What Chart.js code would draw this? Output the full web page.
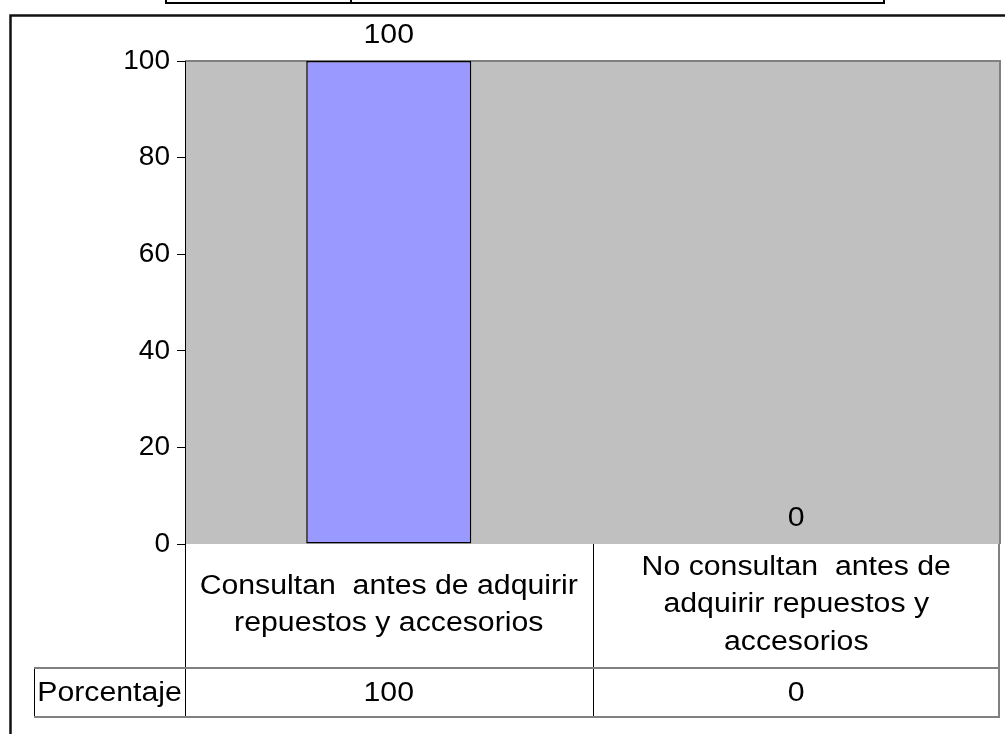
<!DOCTYPE html>
<html>
<head>
<meta charset="utf-8">
<script src="https://cdn.jsdelivr.net/npm/chart.js@4.4.0/dist/chart.umd.min.js"></script>
<style>
  html, body { margin: 0; padding: 0; background: #fff; }
  #grafica { display: block; }
</style>
</head>
<body>
<canvas id="grafica" width="1005" height="734"></canvas>
<script>
// datos del gráfico
const categorias = [
  ['Consultan  antes de adquirir', 'repuestos y accesorios'],
  ['No consultan  antes de', 'adquirir repuestos y', 'accesorios']
];
const serieNombre = 'Porcentaje';
const porcentajes = [100, 0];
const ticksY = [0, 20, 40, 60, 80, 100];

const fuente = '"Liberation Sans", Arial, sans-serif';
const tamFuente = 27;
const estiramiento = 1.12; // el texto del original sale algo más ancho

function texto(ctx, t, x, y) {
  ctx.save();
  ctx.translate(x, y);
  ctx.scale(estiramiento, 1);
  ctx.fillText(t, 0, 0);
  ctx.restore();
}

// fondo gris y borde del área de trazado, más el recuadro exterior
const fondoPlugin = {
  id: 'fondo',
  beforeDraw(chart) {
    const { ctx, chartArea: a } = chart;
    ctx.save();
    // recuadro cortado arriba
    ctx.strokeStyle = '#000';
    ctx.lineWidth = 2;
    ctx.beginPath();
    ctx.moveTo(166, -5); ctx.lineTo(166, 3); ctx.lineTo(884, 3); ctx.lineTo(884, -5);
    ctx.moveTo(351, -5); ctx.lineTo(351, 3);
    ctx.stroke();
    // borde exterior del gráfico
    ctx.strokeStyle = '#111';
    ctx.lineWidth = 2.5;
    ctx.beginPath();
    ctx.moveTo(10.5, 740); ctx.lineTo(10.5, 15.5); ctx.lineTo(1010, 15.5);
    ctx.stroke();
    // área de trazado
    ctx.fillStyle = '#C0C0C0';
    ctx.fillRect(a.left, a.top, a.right - a.left, a.bottom - a.top);
    ctx.strokeStyle = '#808080';
    ctx.lineWidth = 2;
    ctx.beginPath();
    ctx.moveTo(a.left, a.top); ctx.lineTo(a.right, a.top); ctx.lineTo(a.right, a.bottom);
    ctx.stroke();
    ctx.restore();
  }
};

// etiquetas de valor y tabla de datos debajo
const tablaPlugin = {
  id: 'tabla',
  afterDraw(chart) {
    const { ctx, chartArea: a } = chart;
    const x = chart.scales.x;
    const meta = chart.getDatasetMeta(0);
    ctx.save();
    ctx.font = tamFuente + 'px ' + fuente;
    ctx.fillStyle = '#000';
    ctx.textAlign = 'center';
    ctx.textBaseline = 'middle';

    // etiquetas sobre las barras
    meta.data.forEach((bar, i) => {
      texto(ctx, String(porcentajes[i]), bar.x, bar.y - 25);
    });

    const fila1 = a.bottom;
    const fila2 = a.bottom + 124;
    const fin = a.bottom + 173;
    const izqSerie = 34;
    const der = a.right - 1;

    const bordes = [a.left];
    for (let i = 1; i < categorias.length; i++) {
      bordes.push((x.getPixelForValue(i - 1) + x.getPixelForValue(i)) / 2);
    }

    // líneas verticales
    ctx.strokeStyle = '#000';
    ctx.lineWidth = 1;
    ctx.beginPath();
    bordes.forEach(bx => {
      const px = Math.round(bx) + 0.5;
      ctx.moveTo(px, fila1); ctx.lineTo(px, fin);
    });
    ctx.moveTo(izqSerie + 0.5, fila2); ctx.lineTo(izqSerie + 0.5, fin);
    ctx.stroke();

    ctx.strokeStyle = '#808080';
    ctx.lineWidth = 2;
    ctx.beginPath();
    ctx.moveTo(der, fila1); ctx.lineTo(der, fin);
    ctx.moveTo(izqSerie, fila2); ctx.lineTo(der, fila2);
    ctx.moveTo(izqSerie, fin); ctx.lineTo(der + 1, fin);
    ctx.stroke();

    // textos de categorías
    const altoLinea = 37.5;
    const centroFila1 = fila1 + 61;
    categorias.forEach((lineas, i) => {
      const cx = x.getPixelForValue(i);
      const y0 = centroFila1 - (lineas.length - 1) * altoLinea / 2;
      lineas.forEach((t, j) => texto(ctx, t, cx, y0 + j * altoLinea));
    });

    // fila de la serie
    const centroFila2 = (fila2 + fin) / 2 + 1;
    texto(ctx, serieNombre, (izqSerie + a.left) / 2, centroFila2);
    porcentajes.forEach((v, i) => {
      texto(ctx, String(v), x.getPixelForValue(i), centroFila2);
    });
    ctx.restore();
  }
};

new Chart(document.getElementById('grafica'), {
  type: 'bar',
  data: {
    labels: categorias.map(l => l.join(' ')),
    datasets: [{
      label: serieNombre,
      data: porcentajes,
      backgroundColor: '#9999FF',
      borderColor: '#000',
      borderWidth: 1.5,
      borderSkipped: false,
      barPercentage: 0.405,
      categoryPercentage: 1
    }]
  },
  options: {
    responsive: false,
    animation: false,
    layout: { padding: { top: 61, right: 5, bottom: 190, left: 0 } },
    plugins: {
      legend: { display: false },
      tooltip: { enabled: false },
      title: { display: false }
    },
    scales: {
      x: { display: false },
      y: {
        min: 0,
        max: 100,
        afterFit: scale => { scale.width = 185; },
        afterBuildTicks: scale => { scale.ticks = ticksY.map(v => ({ value: v })); },
        ticks: {
          color: '#000',
          padding: 7,
          font: { family: fuente, size: 28 }
        },
        grid: {
          drawOnChartArea: false,
          drawTicks: true,
          tickLength: 8,
          color: '#000'
        },
        border: { display: true, color: '#000', width: 1 }
      }
    }
  },
  plugins: [fondoPlugin, tablaPlugin]
});
</script>
</body>
</html>
